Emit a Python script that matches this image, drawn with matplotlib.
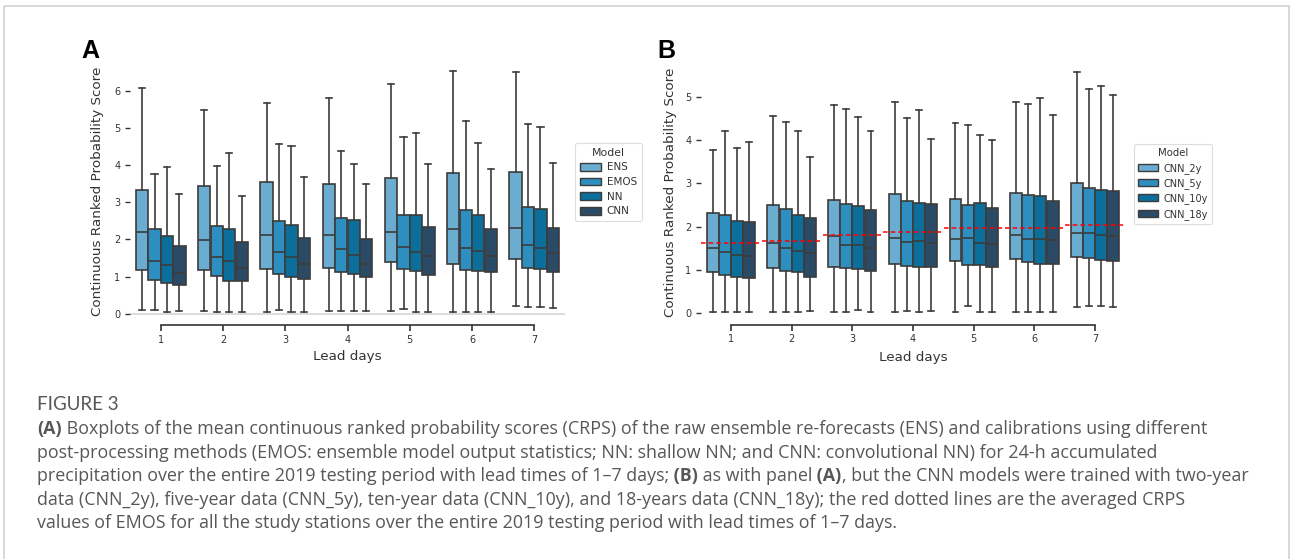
import matplotlib
matplotlib.use("Agg")
import matplotlib.pyplot as plt
from matplotlib.patches import Patch, Rectangle

W, H = 1290, 559

lead_days = ["1", "2", "3", "4", "5", "6", "7"]
models_a = ["ENS", "EMOS", "NN", "CNN"]
models_b = ["CNN_2y", "CNN_5y", "CNN_10y", "CNN_18y"]
palette = ["#6badd1", "#2c8fc0", "#0c6e9a", "#2b4a65"]

# rows: lead day 1..7; columns: lower whisker, Q1, median, Q3, upper whisker
ens = [[0.10, 1.17, 2.20, 3.33, 6.08],
       [0.07, 1.17, 1.99, 3.43, 5.48],
       [0.04, 1.20, 2.12, 3.55, 5.68],
       [0.08, 1.22, 2.12, 3.50, 5.82],
       [0.08, 1.38, 2.20, 3.65, 6.20],
       [0.04, 1.33, 2.28, 3.78, 6.55],
       [0.20, 1.47, 2.30, 3.83, 6.50]]
emos = [[0.10, 0.90, 1.42, 2.27, 3.75],
        [0.04, 1.01, 1.52, 2.35, 3.98],
        [0.10, 1.06, 1.65, 2.49, 4.58],
        [0.08, 1.12, 1.73, 2.59, 4.38],
        [0.13, 1.19, 1.79, 2.67, 4.75],
        [0.04, 1.18, 1.76, 2.80, 5.20],
        [0.18, 1.23, 1.85, 2.88, 5.12]]
nn = [[0.04, 0.83, 1.31, 2.09, 3.95],
      [0.04, 0.88, 1.42, 2.27, 4.33],
      [0.04, 0.99, 1.52, 2.40, 4.51],
      [0.07, 1.07, 1.59, 2.53, 4.03],
      [0.04, 1.16, 1.67, 2.67, 4.88],
      [0.04, 1.14, 1.70, 2.67, 4.59],
      [0.18, 1.21, 1.76, 2.83, 5.04]]
cnn = [[0.08, 0.78, 1.10, 1.83, 3.22],
       [0.04, 0.88, 1.22, 1.93, 3.17],
       [0.04, 0.93, 1.33, 2.03, 3.67],
       [0.07, 0.98, 1.33, 2.01, 3.48],
       [0.04, 1.04, 1.55, 2.33, 4.03],
       [0.04, 1.12, 1.55, 2.27, 3.90],
       [0.15, 1.12, 1.63, 2.30, 4.06]]

cnn_2y = [[0.03, 0.96, 1.52, 2.31, 3.78],
          [0.03, 1.04, 1.62, 2.50, 4.56],
          [0.03, 1.08, 1.79, 2.61, 4.81],
          [0.03, 1.14, 1.75, 2.75, 4.89],
          [0.03, 1.21, 1.72, 2.63, 4.39],
          [0.03, 1.26, 1.82, 2.77, 4.89],
          [0.14, 1.29, 1.86, 3.02, 5.58]]
cnn_5y = [[0.03, 0.88, 1.41, 2.28, 4.21],
          [0.03, 0.98, 1.52, 2.41, 4.43],
          [0.03, 1.04, 1.58, 2.52, 4.71],
          [0.05, 1.10, 1.65, 2.59, 4.52],
          [0.16, 1.12, 1.74, 2.50, 4.35],
          [0.03, 1.18, 1.72, 2.74, 4.84],
          [0.16, 1.28, 1.86, 2.89, 5.17]]
cnn_10y = [[0.03, 0.84, 1.35, 2.14, 3.81],
           [0.03, 0.95, 1.45, 2.28, 4.21],
           [0.08, 1.02, 1.58, 2.47, 4.53],
           [0.03, 1.06, 1.68, 2.55, 4.69],
           [0.03, 1.12, 1.62, 2.55, 4.12],
           [0.03, 1.15, 1.72, 2.70, 4.97],
           [0.16, 1.23, 1.80, 2.86, 5.24]]
cnn_18y = [[0.03, 0.81, 1.32, 2.10, 3.96],
           [0.06, 0.85, 1.40, 2.21, 3.61],
           [0.03, 0.98, 1.52, 2.39, 4.21],
           [0.05, 1.06, 1.62, 2.53, 4.03],
           [0.03, 1.08, 1.59, 2.43, 4.00],
           [0.03, 1.14, 1.70, 2.59, 4.58],
           [0.14, 1.22, 1.78, 2.83, 5.04]]
emos_mean = [1.62, 1.68, 1.82, 1.87, 1.96, 1.98, 2.05]

EDGE = "#3c3c3c"
TXT = "#333333"
LW = 1.2
CAP_COLOR = "#575757"

fig = plt.figure(figsize=(W / 100, H / 100), dpi=100)

# full-figure overlay in pixel units (y downwards) for frame and caption
cax = fig.add_axes([0, 0, 1, 1], zorder=-1)
cax.set_xlim(0, W)
cax.set_ylim(H, 0)
cax.axis("off")
cax.add_patch(Rectangle((4, 5.5), 1284.5, 700, fill=False,
                        edgecolor="#d2d2d2", linewidth=1.2))


def frac_axes(left, top, right, bottom):
    return [left / W, 1 - bottom / H, (right - left) / W, (bottom - top) / H]


def draw_panel(ax, series, names, ylim, yticks, ylab_x, xlab_y, leg_xy,
               leg_size):
    n = len(series)
    width = 0.8 / n
    for k, (rows, color) in enumerate(zip(series, palette)):
        stats = [dict(whislo=r[0], q1=r[1], med=r[2], q3=r[3], whishi=r[4],
                      fliers=[]) for r in rows]
        pos = [i - 0.4 + width * (k + 0.5) for i in range(len(rows))]
        ax.bxp(stats, positions=pos, widths=width * 0.98, patch_artist=True,
               showfliers=False, manage_ticks=False,
               boxprops=dict(facecolor=color, edgecolor=EDGE, linewidth=LW),
               medianprops=dict(color=EDGE, linewidth=LW),
               whiskerprops=dict(color=EDGE, linewidth=LW),
               capprops=dict(color=EDGE, linewidth=LW))
    ax.set_xlim(-0.5, len(lead_days) - 0.5)
    ax.set_ylim(*ylim)
    ax.set_xticks(range(len(lead_days)))
    ax.set_xticklabels(lead_days)
    ax.set_yticks(yticks)
    ax.set_yticklabels([str(t) for t in yticks])
    for s in ("top", "right", "left"):
        ax.spines[s].set_visible(False)
    ax.spines["bottom"].set_bounds(0, len(lead_days) - 1)
    ax.spines["bottom"].set_color(TXT)
    ax.spines["bottom"].set_linewidth(LW)
    ax.tick_params(axis="x", length=4, width=LW, color=TXT, labelsize=7,
                   labelcolor=TXT, pad=3)
    ax.tick_params(axis="y", length=3.5, width=1.0, color=TXT, labelsize=7,
                   labelcolor=TXT, pad=3)
    ax.set_xlabel("Lead days", fontsize=9.7, color=TXT, va="center")
    ax.xaxis.set_label_coords(0.5, xlab_y)
    ax.set_ylabel("Continuous Ranked Probability Score", fontsize=9.7,
                  color=TXT, va="center")
    ax.yaxis.set_label_coords(ylab_x, 0.5)
    ax.patch.set_alpha(0)
    handles = [Patch(facecolor=c, edgecolor=EDGE, linewidth=1.0, label=m)
               for c, m in zip(palette, names)]
    leg = ax.legend(handles=handles, title="Model", loc="upper left",
                    bbox_to_anchor=(leg_xy[0] / W, 1 - leg_xy[1] / H),
                    bbox_transform=fig.transFigure, fontsize=leg_size,
                    title_fontsize=leg_size + 0.3, frameon=True,
                    fancybox=True, framealpha=1, edgecolor="#dddddd",
                    handlelength=2.0, handleheight=0.75, labelspacing=0.45,
                    borderpad=0.45, handletextpad=0.6, borderaxespad=0,
                    labelcolor=TXT)
    leg.get_title().set_color(TXT)
    leg.get_frame().set_linewidth(0.8)
    return ax


# panel A
ax_a = fig.add_axes(frac_axes(129.6, 58.3, 565.4, 324.8))
ax_a.axhline(0, color="#d6d6d6", linewidth=1.2, zorder=0)
draw_panel(ax_a, [ens, emos, nn, cnn], models_a, (-0.30, 6.88),
           [0, 1, 2, 3, 4, 5, 6], -0.0737, -0.1208, (575, 143), 7.5)

# panel B with EMOS averages as red dashed segments
ax_b = fig.add_axes(frac_axes(700.6, 59.6, 1125.4, 324.6))
draw_panel(ax_b, [cnn_2y, cnn_5y, cnn_10y, cnn_18y], models_b, (-0.26, 5.86),
           [0, 1, 2, 3, 4, 5], -0.0706, -0.1223, (1134, 144), 7)
for i, v in enumerate(emos_mean):
    ax_b.plot([i - 0.49, i + 0.49], [v, v], color="red", linewidth=1.1,
              linestyle=(0, (3, 2)), zorder=5)

# panel letters
for x, letter in ((81.5, "A"), (657, "B")):
    cax.text(x, 58.3, letter, fontsize=18, fontweight="bold",
             family="Liberation Sans", va="baseline", ha="left", color="black")

# caption
cax.text(37, 409.5, "FIGURE 3", fontsize=13.5, family="Lato",
         color=CAP_COLOR, va="baseline", ha="left")

caption_lines = [
    [("(A)", True),
     (" Boxplots of the mean continuous ranked probability scores (CRPS) of "
      "the raw ensemble re-forecasts (ENS) and calibrations using different",
      False)],
    [("post-processing methods (EMOS: ensemble model output statistics; NN: "
      "shallow NN; and CNN: convolutional NN) for 24-h accumulated", False)],
    [("precipitation over the entire 2019 testing period with lead times of "
      "1\u20137 days;", False),
     (" (B)", True), (" as with panel", False), (" (A)", True),
     (", but the CNN models were trained with two-year", False)],
    [("data (CNN_2y), five-year data (CNN_5y), ten-year data (CNN_10y), and "
      "18-years data (CNN_18y); the red dotted lines are the averaged CRPS",
      False)],
    [("values of EMOS for all the study stations over the entire 2019 testing "
      "period with lead times of 1\u20137 days.", False)],
]
baselines = [434, 457.5, 481, 505, 528.5]
CAP_SIZE = 12.9
for segs, yb in zip(caption_lines, baselines):
    prev = None
    for txt, bold in segs:
        kw = dict(fontsize=CAP_SIZE, family="Open Sans", color=CAP_COLOR,
                  fontweight="bold" if bold else "normal", ha="left")
        if prev is None:
            prev = cax.text(37, yb, txt, va="baseline", **kw)
        else:
            prev = cax.annotate(txt, xy=(1, 0), xycoords=prev, va="bottom",
                                **kw)

fig.savefig("out.png", dpi=100)
